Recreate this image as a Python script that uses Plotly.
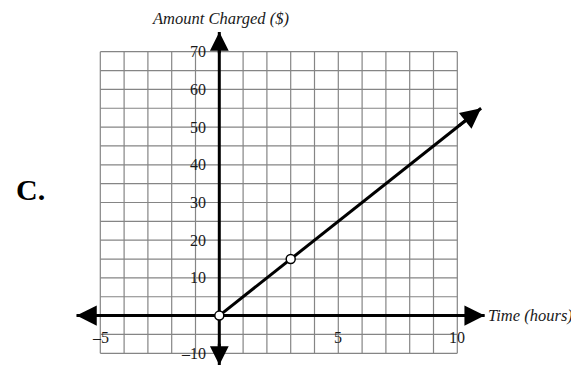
import plotly.graph_objects as go

# ---- data ----
x_grid = list(range(-5, 11))          # vertical grid lines (hours)
y_grid = list(range(-10, 71, 5))      # horizontal grid lines ($)
x_tick_vals = [-5, 5, 10]
x_tick_text = ["–5", "5", "10"]
y_tick_vals = [70, 60, 50, 40, 30, 20, 10, -10]
y_tick_text = ["70", "60", "50", "40", "30", "20", "10", "–10"]
line_x = [0, 11]
line_y = [0, 55]
open_x = [0, 3]
open_y = [0, 15]
x_axis_ends = [-6.0, 11.15]
y_axis_ends = [-13.1, 75.2]

# page body has an 8px margin, so the figure is drawn 8px smaller and shifted
OFF = 8
W, H = 579 - OFF, 368 - OFF
PX_X, PX_Y = 23.8, 3.77     # pixels per unit
X0, Y0 = 219.3 - OFF, 315.6 - OFF   # pixel position of origin
x_range = [-X0 / PX_X, (W - X0) / PX_X]
y_range = [-(H - Y0) / PX_Y, Y0 / PX_Y]

SERIF = "Liberation Serif, Times New Roman, serif"
GRID = "#858585"

fig = go.Figure()

# grid
gx, gy = [], []
for v in x_grid:
    gx += [v, v, None]
    gy += [y_grid[0], y_grid[-1], None]
for v in y_grid:
    gx += [x_grid[0], x_grid[-1], None]
    gy += [v, v, None]
fig.add_trace(go.Scatter(x=gx, y=gy, mode="lines",
                         line=dict(color=GRID, width=1.2),
                         hoverinfo="skip", showlegend=False))

# axes
fig.add_trace(go.Scatter(x=x_axis_ends, y=[0, 0], mode="lines",
                         line=dict(color="black", width=3),
                         hoverinfo="skip", showlegend=False))
fig.add_trace(go.Scatter(x=[0, 0], y=y_axis_ends, mode="lines",
                         line=dict(color="black", width=3),
                         hoverinfo="skip", showlegend=False))

# function line
fig.add_trace(go.Scatter(x=line_x, y=line_y, mode="lines",
                         line=dict(color="black", width=3),
                         hoverinfo="skip", showlegend=False))

# open points
fig.add_trace(go.Scatter(x=open_x, y=open_y, mode="markers",
                         marker=dict(size=9, color="white",
                                     line=dict(color="black", width=1.5)),
                         hoverinfo="skip", showlegend=False))

ann = []
def arrow(x, y, ax, ay, size):
    ann.append(dict(x=x, y=y, ax=ax, ay=ay, xref="x", yref="y",
                    axref="x", ayref="y", text="", showarrow=True,
                    arrowhead=2, arrowsize=size, arrowwidth=3,
                    arrowcolor="black"))

arrow(x_axis_ends[1], 0, x_axis_ends[1] - 1, 0, 1.35)
arrow(x_axis_ends[0], 0, x_axis_ends[0] + 1, 0, 1.35)
arrow(0, y_axis_ends[1], 0, y_axis_ends[1] - 6, 1.25)
arrow(0, y_axis_ends[0], 0, y_axis_ends[0] + 6, 1.25)
arrow(line_x[1], line_y[1], line_x[1] - 1, line_y[1] - 5, 1.35)

for v, t in zip(x_tick_vals, x_tick_text):
    ann.append(dict(x=v, y=0, xref="x", yref="y", text=t, showarrow=False,
                    yshift=-22, xanchor="center", yanchor="middle",
                    font=dict(family=SERIF, size=16, color="#1a1a1a")))
for v, t in zip(y_tick_vals, y_tick_text):
    ann.append(dict(x=0, y=v, xref="x", yref="y", text=t, showarrow=False,
                    xshift=-11, xanchor="right", yanchor="middle",
                    font=dict(family=SERIF, size=16, color="#1a1a1a")))

ann.append(dict(x=0.03, y=78.7, xref="x", yref="y",
                text="<i>Amount Charged ($)</i>", showarrow=False,
                xanchor="center", yanchor="middle",
                font=dict(family=SERIF, size=16.5, color="#1a1a1a")))
ann.append(dict(x=11.22, y=0, xref="x", yref="y",
                text="<i>Time (hours)</i>", showarrow=False,
                xanchor="left", yanchor="middle",
                font=dict(family=SERIF, size=16.5, color="#1a1a1a")))
ann.append(dict(x=-7.95, y=33.5, xref="x", yref="y",
                text="<b>C.</b>", showarrow=False,
                xanchor="center", yanchor="middle",
                font=dict(family=SERIF, size=30, color="black")))

fig.update_layout(
    width=W, height=H,
    margin=dict(l=0, r=0, t=0, b=0),
    paper_bgcolor="white", plot_bgcolor="white",
    xaxis=dict(range=x_range, visible=False, fixedrange=True),
    yaxis=dict(range=y_range, visible=False, fixedrange=True),
    annotations=ann,
    showlegend=False,
)

fig.write_html("out.html")
